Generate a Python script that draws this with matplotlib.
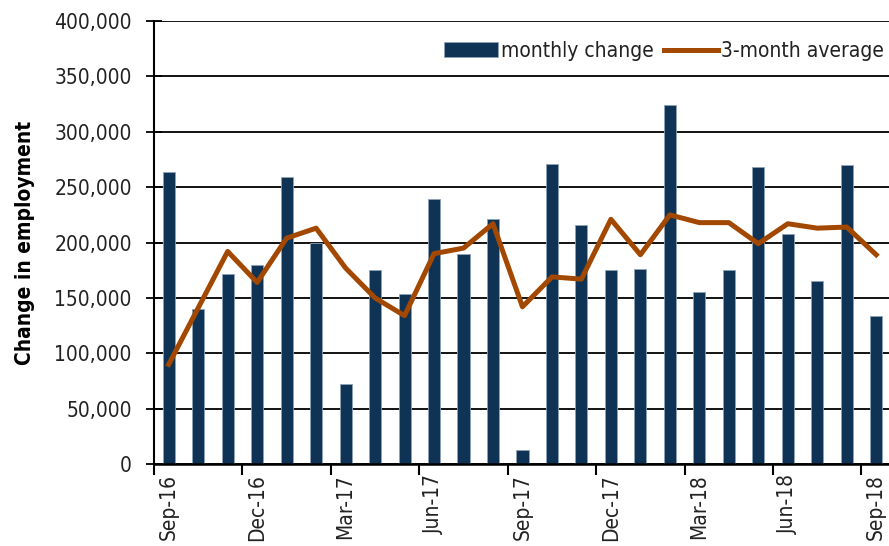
import matplotlib
matplotlib.use("Agg")
from matplotlib import pyplot as plt
from matplotlib.ticker import FuncFormatter, FixedLocator

# miesiace
months = ["Sep-16", "Oct-16", "Nov-16", "Dec-16", "Jan-17", "Feb-17", "Mar-17",
          "Apr-17", "May-17", "Jun-17", "Jul-17", "Aug-17", "Sep-17", "Oct-17",
          "Nov-17", "Dec-17", "Jan-18", "Feb-18", "Mar-18", "Apr-18", "May-18",
          "Jun-18", "Jul-18", "Aug-18", "Sep-18"]

# zmiana miesieczna
monthly_change = [264000, 140000, 172000, 180000, 259000, 200000, 72000,
                  175000, 154000, 239000, 190000, 221000, 13000, 271000,
                  216000, 175000, 176000, 324000, 155000, 175000, 268000,
                  208000, 165000, 270000, 134000]

# srednia 3-miesieczna
avg_3m = [90000, 141000, 192000, 164000, 204000, 213000, 177000,
          150000, 134000, 190000, 195000, 217000, 142000, 169000,
          167000, 221000, 189000, 225000, 218000, 218000, 199000,
          217000, 213000, 214000, 189000]

tick_months = months[::3]

plt.rcParams["font.family"] = ["DejaVu Sans"]
plt.rcParams["font.stretch"] = "condensed"

fig = plt.figure(figsize=(8.89, 5.46), dpi=100)
ax = fig.add_axes([0.1732, 0.150, 0.8290, 0.8115])

x = list(range(len(months)))
bars = ax.bar(x, monthly_change, width=0.41, color="#0f3354", edgecolor="#8fa3b8",
              linewidth=0.6, label="monthly change", zorder=3)
line, = ax.plot(x, avg_3m, color="#a34800", linewidth=3.6, label="3-month average",
                zorder=4)

ax.set_xlim(-0.5, 24.5)
ax.set_ylim(0, 400000)
ax.set_yticks(range(0, 400001, 50000))
ax.yaxis.set_major_formatter(FuncFormatter(lambda v, p: f"{int(v):,}"))
ax.yaxis.grid(True, color="black", linewidth=1.3, zorder=0)

# etykiety w srodku kategorii, kreski na granicach
ax.set_xticks([months.index(m) for m in tick_months])
ax.set_xticklabels(tick_months, rotation=90)
ax.xaxis.set_minor_locator(FixedLocator([months.index(m) - 0.5 for m in tick_months]))
ax.tick_params(axis="x", which="major", length=0, pad=7, labelsize=15,
               labelcolor="#222222")
ax.tick_params(axis="x", which="minor", length=8, width=1.5, color="black")
ax.tick_params(axis="y", direction="inout", length=12, width=1.3, labelsize=15,
               pad=10, labelcolor="#222222")

for s in ["top", "right"]:
    ax.spines[s].set_visible(False)
ax.spines["left"].set_linewidth(1.5)
ax.spines["bottom"].set_linewidth(1.8)
ax.spines["bottom"].set_zorder(5)

ax.set_ylabel("Change in employment", fontsize=15, fontweight="bold", labelpad=14)

ax.legend([bars, line], ["monthly change", "3-month average"],
          loc="upper right", ncol=2, frameon=False, fontsize=15,
          handlelength=2.6, handletextpad=0.15, columnspacing=0.5,
          bbox_to_anchor=(1.012, 0.99), borderaxespad=0.35, labelcolor="#222222")

fig.savefig("out.png", dpi=100)
